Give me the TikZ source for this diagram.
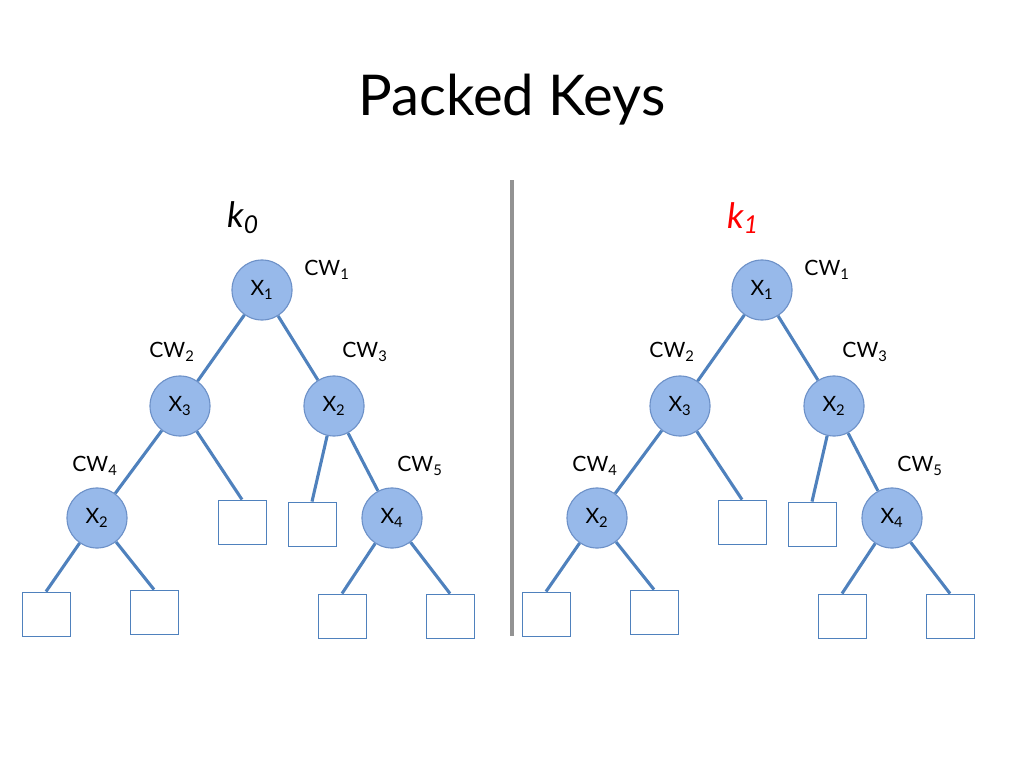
\documentclass[tikz,border=0pt]{standalone}
\usepackage{fontspec}
\setmainfont{Lato}
\definecolor{edgeblue}{HTML}{4F81BD}
\definecolor{nodefill}{HTML}{97B9EA}
\definecolor{nodedraw}{HTML}{6D91C8}
\newcommand\lsub[1]{\textsubscript{#1}}
\begin{document}
\begin{tikzpicture}[x=0.025cm,y=-0.025cm,
  vnode/.style={circle,draw=nodedraw,fill=nodefill,line width=0.8pt,minimum size=1.5cm,inner sep=0pt,font=\fontsize{15}{17}\selectfont},
  leaf/.style={rectangle,draw=edgeblue,fill=white,line width=0.6pt,minimum width=1.2cm,minimum height=1.1cm,inner sep=0pt},
  edge/.style={draw=edgeblue,line width=2.2pt},
  cw/.style={font=\fontsize{15}{17}\selectfont},
  keylab/.style={font=\fontsize{25}{28}\selectfont\itshape}]
\useasboundingbox (0,0) rectangle (1024,768);
\node[font=\fontsize{40}{46}\selectfont] (title) at (512,100) {Packed Keys};
\coordinate (divtop) at (512,180);
\coordinate (divbot) at (512,636);
\draw[line width=2.2pt,color=gray!85] (divtop) -- (divbot);
% left tree
\node[keylab] (k0) at (243,218) {k\lsub{0}};
\node[vnode] (a1) at (262,290) {X\lsub{1}};
\node[vnode] (a3) at (180,406) {X\lsub{3}};
\node[vnode] (a2) at (334,406) {X\lsub{2}};
\node[vnode] (a2b) at (97,518) {X\lsub{2}};
\node[vnode] (a4) at (392,518) {X\lsub{4}};
\node[leaf] (as1) at (242,522) {};
\node[leaf] (as2) at (312,524) {};
\node[leaf] (as3) at (46,614) {};
\node[leaf] (as4) at (154,612) {};
\node[leaf] (as5) at (342,616) {};
\node[leaf] (as6) at (450,616) {};
\node[cw] (acw1) at (327,270) {CW\lsub{1}};
\node[cw] (acw2) at (172,352) {CW\lsub{2}};
\node[cw] (acw3) at (365,352) {CW\lsub{3}};
\node[cw] (acw4) at (95,466) {CW\lsub{4}};
\node[cw] (acw5) at (420,466) {CW\lsub{5}};
\draw[edge] (a1) -- (a3);
\draw[edge] (a1) -- (a2);
\draw[edge] (a3) -- (a2b);
\draw[edge] (a3) -- (as1.north);
\draw[edge] (a2) -- (as2.north);
\draw[edge] (a2) -- (a4);
\draw[edge] (a2b) -- (as3.north);
\draw[edge] (a2b) -- (as4.north);
\draw[edge] (a4) -- (as5.north);
\draw[edge] (a4) -- (as6.north);
% right tree
\node[keylab,text=red] (k1) at (743,218) {k\lsub{1}};
\node[vnode] (b1) at (762,290) {X\lsub{1}};
\node[vnode] (b3) at (680,406) {X\lsub{3}};
\node[vnode] (b2) at (834,406) {X\lsub{2}};
\node[vnode] (b2b) at (597,518) {X\lsub{2}};
\node[vnode] (b4) at (892,518) {X\lsub{4}};
\node[leaf] (bs1) at (742,522) {};
\node[leaf] (bs2) at (812,524) {};
\node[leaf] (bs3) at (546,614) {};
\node[leaf] (bs4) at (654,612) {};
\node[leaf] (bs5) at (842,616) {};
\node[leaf] (bs6) at (950,616) {};
\node[cw] (bcw1) at (827,270) {CW\lsub{1}};
\node[cw] (bcw2) at (672,352) {CW\lsub{2}};
\node[cw] (bcw3) at (865,352) {CW\lsub{3}};
\node[cw] (bcw4) at (595,466) {CW\lsub{4}};
\node[cw] (bcw5) at (920,466) {CW\lsub{5}};
\draw[edge] (b1) -- (b3);
\draw[edge] (b1) -- (b2);
\draw[edge] (b3) -- (b2b);
\draw[edge] (b3) -- (bs1.north);
\draw[edge] (b2) -- (bs2.north);
\draw[edge] (b2) -- (b4);
\draw[edge] (b2b) -- (bs3.north);
\draw[edge] (b2b) -- (bs4.north);
\draw[edge] (b4) -- (bs5.north);
\draw[edge] (b4) -- (bs6.north);
\end{tikzpicture}
\end{document}
